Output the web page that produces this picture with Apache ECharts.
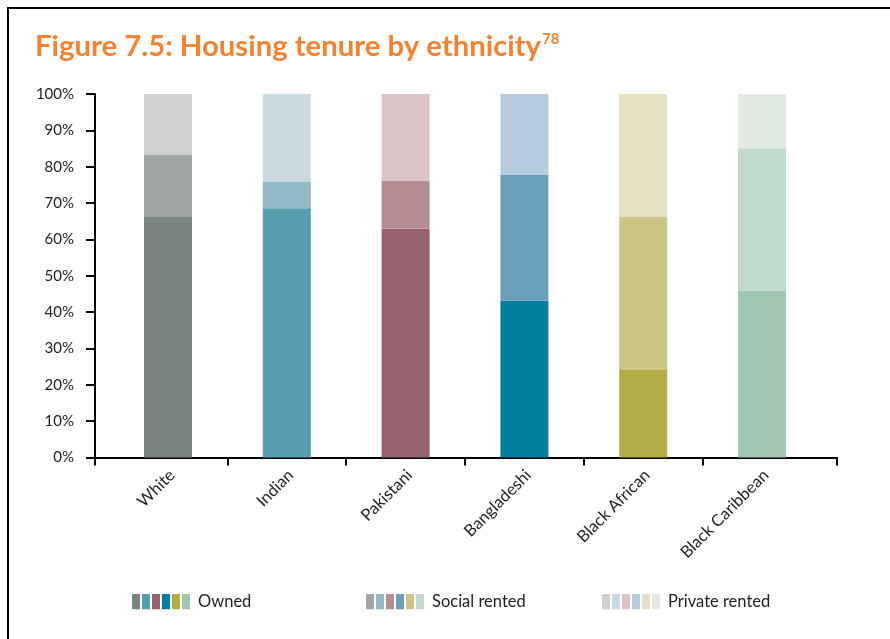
<!DOCTYPE html>
<html lang="en">
  <head>
    <meta charset="UTF-8" />
    <title>Housing tenure by ethnicity</title>
    <script src="https://cdn.jsdelivr.net/npm/echarts@6/dist/echarts.min.js"></script>
    <style>
      * { margin: 0; padding: 0; box-sizing: border-box; }
      body { background: #fff; }
      #chart { width: 890px; height: 639px; }
    </style>
  </head>
  <body>
    <div id="chart"></div>
    <script>
      /* ---------- data ---------- */
      const categories = ["White", "Indian", "Pakistani", "Bangladeshi", "Black African", "Black Caribbean"];
      const owned = [66.4, 68.6, 62.9, 43.1, 24.3, 45.9];
      const socialRented = [16.8, 7.2, 13.2, 34.6, 42.0, 39.2];
      const privateRented = [16.8, 24.2, 23.9, 22.3, 33.7, 14.9];
      const yTicks = [0, 10, 20, 30, 40, 50, 60, 70, 80, 90, 100];

      /* ---------- colours per ethnicity ---------- */
      const ownedColors = ["#798380", "#549eae", "#97636f", "#00809e", "#b2ae45", "#a1c6b1"];
      const socialColors = ["#a0a6a5", "#93bac6", "#b68c93", "#6b9ebb", "#cbc586", "#c0dacc"];
      const privateColors = ["#d0d2d1", "#c9dbe1", "#dac4c8", "#b6cbdb", "#e4e0c1", "#e1e9e3"];

      const font = "Lato, 'Open Sans', sans-serif";
      const ink = "#1e1e1e";

      // legend icon: six little colour strips
      function strips(colors) {
        let svg = "<svg xmlns='http://www.w3.org/2000/svg' width='58' height='16'>";
        colors.forEach((c, i) => {
          svg += "<rect x='" + i * 10 + "' y='0' width='8' height='16' fill='" + c + "'/>";
        });
        svg += "</svg>";
        return "image://data:image/svg+xml;charset=utf-8," + encodeURIComponent(svg);
      }

      // frame axis (grid 1) runs a bit past the outer bars, like the original
      const xMin = -0.614, xMax = 5.63;

      function barSeries(name, values, colors) {
        return {
          name,
          type: "bar",
          stack: "tenure",
          barWidth: 48,
          xAxisIndex: 0,
          yAxisIndex: 0,
          data: values.map((v, i) => ({ value: v, itemStyle: { color: colors[i] } })),
          silent: true,
        };
      }

      function legendAt(name, left, colors) {
        return {
          data: [{ name, icon: strips(colors) }],
          left,
          top: 593,
          padding: 0,
          itemWidth: 58,
          itemHeight: 16,
          selectedMode: false,
          textStyle: { fontFamily: font, fontSize: 16.5, color: ink, padding: [0, 0, 0, 3] },
        };
      }

      const chart = echarts.init(document.getElementById("chart"), null, { renderer: "canvas" });

      chart.setOption({
        backgroundColor: "#fff",
        animation: false,
        title: {
          text: "{t|Figure 7.5: Housing tenure by ethnicity}{s|78}",
          left: 30,
          top: 27,
          textStyle: {
            rich: {
              t: { fontFamily: font, fontWeight: "bold", fontSize: 29.3, color: "#f5822f" },
              s: { fontFamily: font, fontWeight: "bold", fontSize: 15, color: "#f5822f", verticalAlign: "top", padding: [0, 0, 14, 1] },
            },
          },
        },
        graphic: [
          { type: "line", shape: { x1: 7, y1: 8, x2: 890, y2: 8 }, style: { stroke: "#000", lineWidth: 2 } },
          { type: "line", shape: { x1: 8, y1: 7, x2: 8, y2: 639 }, style: { stroke: "#000", lineWidth: 2 } },
        ],
        legend: [
          legendAt("Owned", 132, ownedColors),
          legendAt("Social rented", 366, socialColors),
          legendAt("Private rented", 602, privateColors),
        ],
        grid: [
          { left: 108.6, top: 94, width: 712.8, height: 363.5 }, // bars
          { left: 95, top: 94, width: 742, height: 363.5 },      // axis frame
          { left: 112.6, top: 94, width: 712.8, height: 363.5 }, // category labels
        ],
        xAxis: [
          {
            type: "category",
            gridIndex: 0,
            data: categories,
            axisLine: { show: false },
            axisTick: { show: false },
            axisLabel: { show: false },
          },
          {
            type: "value",
            gridIndex: 1,
            min: xMin,
            max: xMax,
            axisLine: { lineStyle: { color: "#000", width: 2 } },
            axisTick: {
              customValues: [xMin, 0.5, 1.5, 2.5, 3.5, 4.5, xMax],
              length: 8,
              lineStyle: { color: "#000", width: 2 },
            },
            axisLabel: { show: false },
            splitLine: { show: false },
          },
          {
            type: "category",
            gridIndex: 2,
            data: categories,
            axisLine: { show: false },
            axisTick: { show: false },
            axisLabel: {
              interval: 0,
              rotate: 45,
              margin: 15,
              fontFamily: font,
              fontSize: 16.5,
              color: ink,
            },
          },
        ],
        yAxis: [
          { type: "value", gridIndex: 0, min: 0, max: 100, show: false },
          {
            type: "value",
            gridIndex: 1,
            min: yTicks[0],
            max: yTicks[yTicks.length - 1],
            interval: 10,
            axisLine: { show: true, onZero: false, lineStyle: { color: "#000", width: 2 } },
            axisTick: { show: true, length: 9, lineStyle: { color: "#000", width: 2 } },
            axisLabel: { formatter: "{value}%", margin: 21, fontFamily: font, fontSize: 15, color: ink },
            splitLine: { show: false },
          },
          { type: "value", gridIndex: 2, min: 0, max: 100, show: false },
        ],
        series: [
          barSeries("Owned", owned, ownedColors),
          barSeries("Social rented", socialRented, socialColors),
          barSeries("Private rented", privateRented, privateColors),
        ],
      });
    </script>
  </body>
</html>
